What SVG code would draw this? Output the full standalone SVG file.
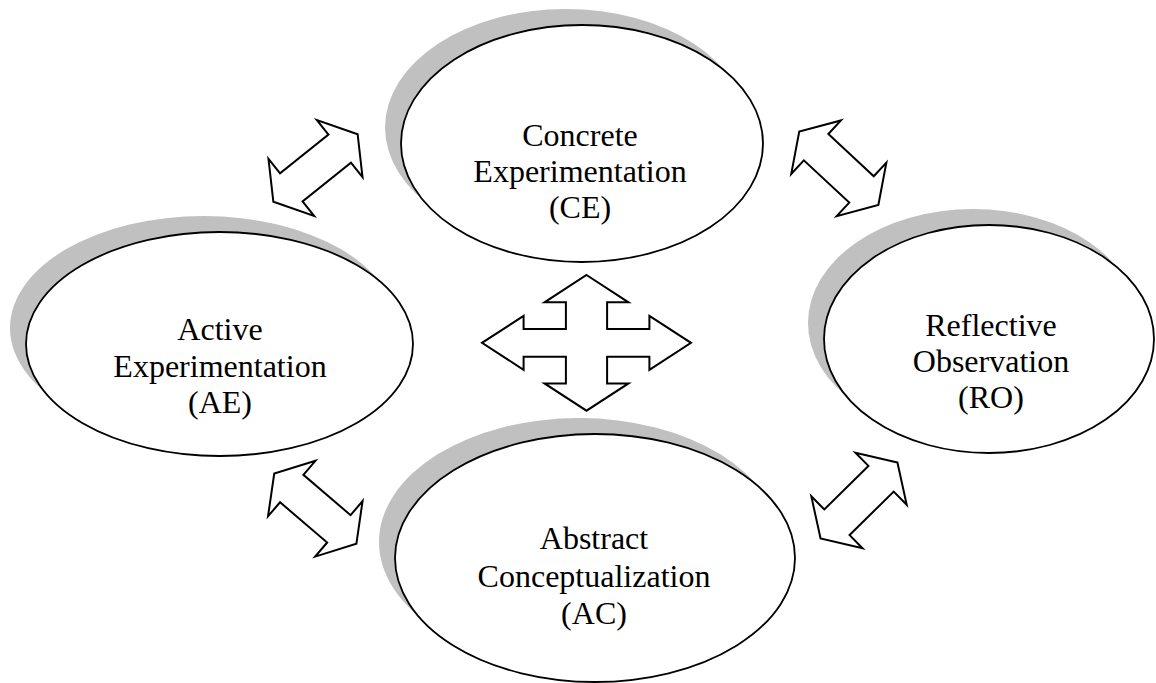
<svg xmlns="http://www.w3.org/2000/svg" width="1156" height="683" viewBox="0 0 1156 683">
<style>
.shadow{fill:#c0c0c0;stroke:none}
.node{fill:#ffffff;stroke:#000000;stroke-width:1.8}
.lbl{font-family:"Liberation Serif","Times New Roman",serif;font-size:32px;fill:#000000;text-anchor:middle}
.arr{fill:#ffffff;stroke:#000000;stroke-width:2;stroke-linejoin:miter}
</style>
<defs>
<polygon id="dbl" points="54,0 31,-36.5 31,-18 -31,-18 -31,-36.5 -54,0 -31,36.5 -31,18 31,18 31,36.5"/>
</defs>
<rect width="1156" height="683" fill="#ffffff"/>
<g id="node-ce">
<ellipse class="shadow" cx="566" cy="127.5" rx="181" ry="118.5"/>
<ellipse class="node" cx="582" cy="143.5" rx="181" ry="118.5"/>
<text class="lbl" x="580" y="146">Concrete</text>
<text class="lbl" x="580" y="182">Experimentation</text>
<text class="lbl" x="580" y="218">(CE)</text>
</g>
<g id="node-ae">
<ellipse class="shadow" cx="203.5" cy="328" rx="193.5" ry="112"/>
<ellipse class="node" cx="219.5" cy="344" rx="193.5" ry="112"/>
<text class="lbl" x="220" y="340">Active</text>
<text class="lbl" x="220" y="376.5">Experimentation</text>
<text class="lbl" x="220" y="413">(AE)</text>
</g>
<g id="node-ro">
<ellipse class="shadow" cx="973" cy="323" rx="165" ry="114"/>
<ellipse class="node" cx="989" cy="339" rx="165" ry="114"/>
<text class="lbl" x="991" y="336">Reflective</text>
<text class="lbl" x="991" y="372">Observation</text>
<text class="lbl" x="991" y="408">(RO)</text>
</g>
<g id="node-ac">
<ellipse class="shadow" cx="579" cy="542" rx="200" ry="124"/>
<ellipse class="node" cx="595" cy="558" rx="200" ry="124"/>
<text class="lbl" x="594" y="549">Abstract</text>
<text class="lbl" x="594" y="586.5">Conceptualization</text>
<text class="lbl" x="594" y="624">(AC)</text>
</g>
<g id="connectors">
<use href="#dbl" class="arr" transform="translate(315.5,168) rotate(-38.7)"/>
<use href="#dbl" class="arr" transform="translate(838.8,168.3) rotate(42.9)"/>
<use href="#dbl" class="arr" transform="translate(315.3,508.7) rotate(40.5)"/>
<use href="#dbl" class="arr" transform="translate(859,500.5) rotate(-44.6)"/>
<polygon class="arr" points="586.5,275 628.5,302.3 607.1,302.3 607.1,329 649.4,329 649.4,315.9 691,342.8 649.4,369.8 649.4,356.7 607.1,356.7 607.1,383.4 628.5,383.4 586.5,410.7 544.5,383.4 565.9,383.4 565.9,356.7 523.6,356.7 523.6,369.8 482,342.8 523.6,315.9 523.6,329 565.9,329 565.9,302.3 544.5,302.3"/>
</g>
</svg>
